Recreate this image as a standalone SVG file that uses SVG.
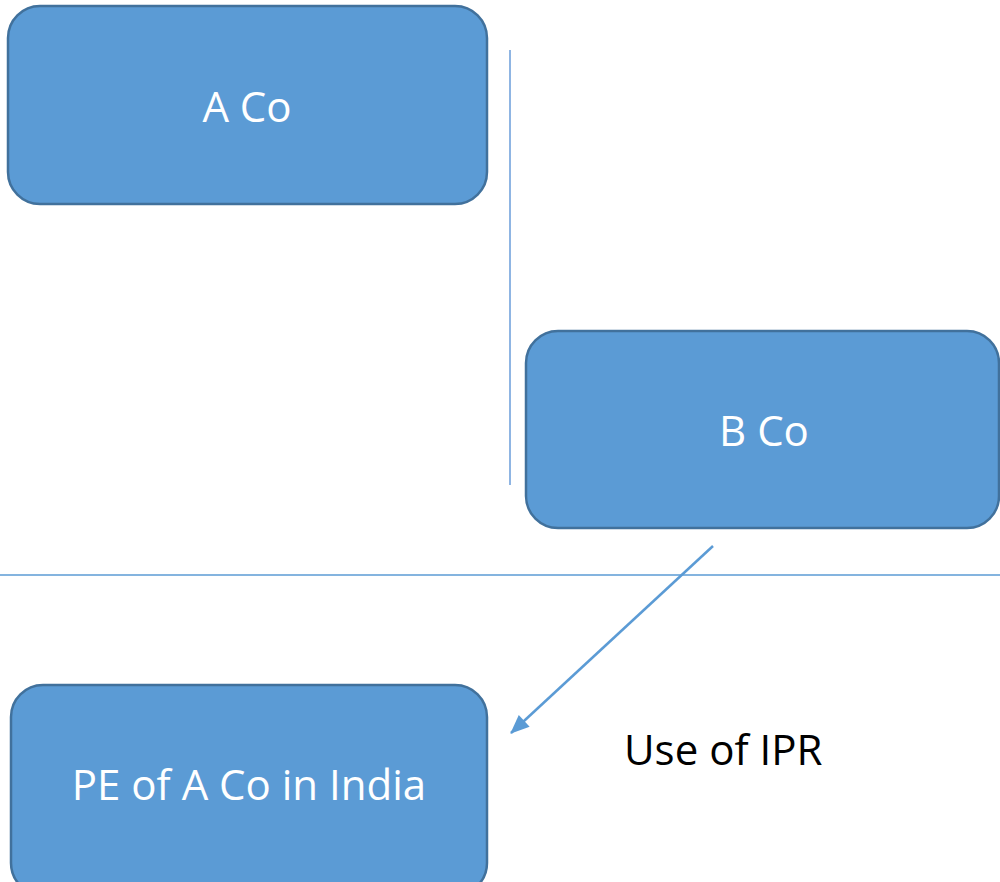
<svg xmlns="http://www.w3.org/2000/svg" width="1000" height="882" viewBox="0 0 1000 882">
<style>
.box{fill:#5B9BD5;stroke:#41719C;stroke-width:2.5}
.lbl{font-family:"Open Sans","Liberation Sans",sans-serif;font-size:42px;fill:#FFFFFF;text-anchor:middle}
.plain{font-family:"Open Sans","Liberation Sans",sans-serif;font-size:42px;fill:#000000}
</style>
<defs>
<marker id="arr" viewBox="0 0 19 16" refX="18" refY="8" markerWidth="19" markerHeight="16" markerUnits="userSpaceOnUse" orient="auto" overflow="visible">
<path d="M0,0 L19,8 L0,16 z" fill="#5B9BD5"/>
</marker>
</defs>
<rect width="1000" height="882" fill="#FFFFFF"/>
<g id="connectors">
<line x1="510" y1="50" x2="510" y2="485" stroke="#8FB5E3" stroke-width="2"/>
<line x1="0" y1="575" x2="1000" y2="575" stroke="#5B9BD5" stroke-width="1.5"/>
<line x1="713" y1="546" x2="511" y2="733" stroke="#5B9BD5" stroke-width="2.5" marker-end="url(#arr)"/>
</g>
<g id="aco">
<rect class="box" x="8" y="6" width="479" height="198" rx="32" ry="32"/>
<text class="lbl" x="247" y="122">A Co</text>
</g>
<g id="bco">
<rect class="box" x="526" y="331" width="473" height="197" rx="32" ry="32"/>
<text class="lbl" x="764" y="446">B Co</text>
</g>
<g id="pe">
<rect class="box" x="11" y="685" width="476" height="210" rx="32" ry="32"/>
<text class="lbl" x="249" y="800">PE of A Co in India</text>
</g>
<g id="ipr">
<text class="plain" x="624" y="765">Use of IPR</text>
</g>
</svg>
